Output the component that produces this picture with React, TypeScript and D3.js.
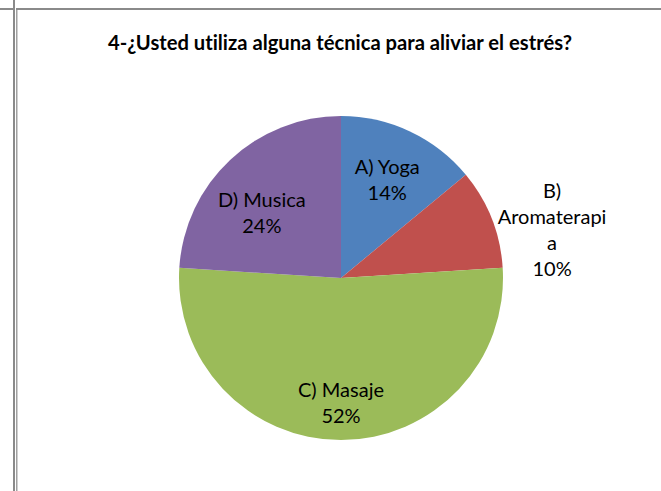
import React from "react";
import * as d3 from "d3";

const categories = ["A) Yoga", "B) Aromaterapia", "C) Masaje", "D) Musica"];
const values = [14, 10, 52, 24];
const labelLines = [
  ["A) Yoga", "14%"],
  ["B)", "Aromaterapi", "a", "10%"],
  ["C) Masaje", "52%"],
  ["D) Musica", "24%"],
];
const colors = ["#4F81BD", "#C0504D", "#9BBB59", "#8064A2"];
const title = "4-¿Usted utiliza alguna técnica para aliviar el estrés?";

// layout: label block centre as (radius factor, angle offset in rad) relative to slice centroid angle
const labelPlacement = [
  { r: 0.67, da: 0 },
  { r: 1.336, da: 0.154 },
  { r: 0.77, da: 0 },
  { r: 0.632, da: -0.13 },
];

const W = 661;
const H = 491;
const cx = 341;
const cy = 278;
const R = 162;

export default function App() {
  const pie = d3.pie<number>().sort(null).value((d) => d);
  const arcs = pie(values);
  const arc = d3.arc<d3.PieArcDatum<number>>().innerRadius(0).outerRadius(R);
  const lineH = 26;
  const fontSize = 20;

  return (
    <svg
      width={W}
      height={H}
      style={{ position: "absolute", left: 0, top: 0, background: "#fff", fontVariantLigatures: "none" }}
      fontFamily="Lato, 'Open Sans', sans-serif"
    >
      <rect x={0} y={0} width={W} height={H} fill="#fff" />
      {/* borders */}
      <rect x={13} y={0} width={2} height={H} fill="#8a8a8a" />
      <rect x={0} y={8} width={14} height={2} fill="#8a8a8a" />
      <rect x={16} y={8} width={1.5} height={H - 8} fill="#a0a0a0" />
      <rect x={16} y={8} width={W - 16} height={2} fill="#8a8a8a" />

      <text
        x={340}
        y={50}
        textAnchor="middle"
        fontWeight="bold"
        fontSize={20.2}
        fill="#000"
        style={{ fontVariantLigatures: "none" }}
      >
        {title}
      </text>

      <g transform={`translate(${cx},${cy})`}>
        {arcs.map((a, i) => (
          <path key={categories[i]} d={arc(a) || ""} fill={colors[i]} />
        ))}
        {arcs.map((a, i) => {
          const lines = labelLines[i];
          const p = labelPlacement[i];
          const ang = (a.startAngle + a.endAngle) / 2 + p.da;
          const lx = Math.sin(ang) * R * p.r;
          const ly = -Math.cos(ang) * R * p.r;
          const startY = ly - ((lines.length - 1) * lineH) / 2 + fontSize * 0.35;
          return (
            <text
              key={"l" + i}
              textAnchor="middle"
              fontSize={fontSize}
              fill="#000"
              style={{ fontVariantLigatures: "none" }}
            >
              {lines.map((t, j) => (
                <tspan key={j} x={lx} y={startY + j * lineH}>
                  {t}
                </tspan>
              ))}
            </text>
          );
        })}
      </g>
    </svg>
  );
}
